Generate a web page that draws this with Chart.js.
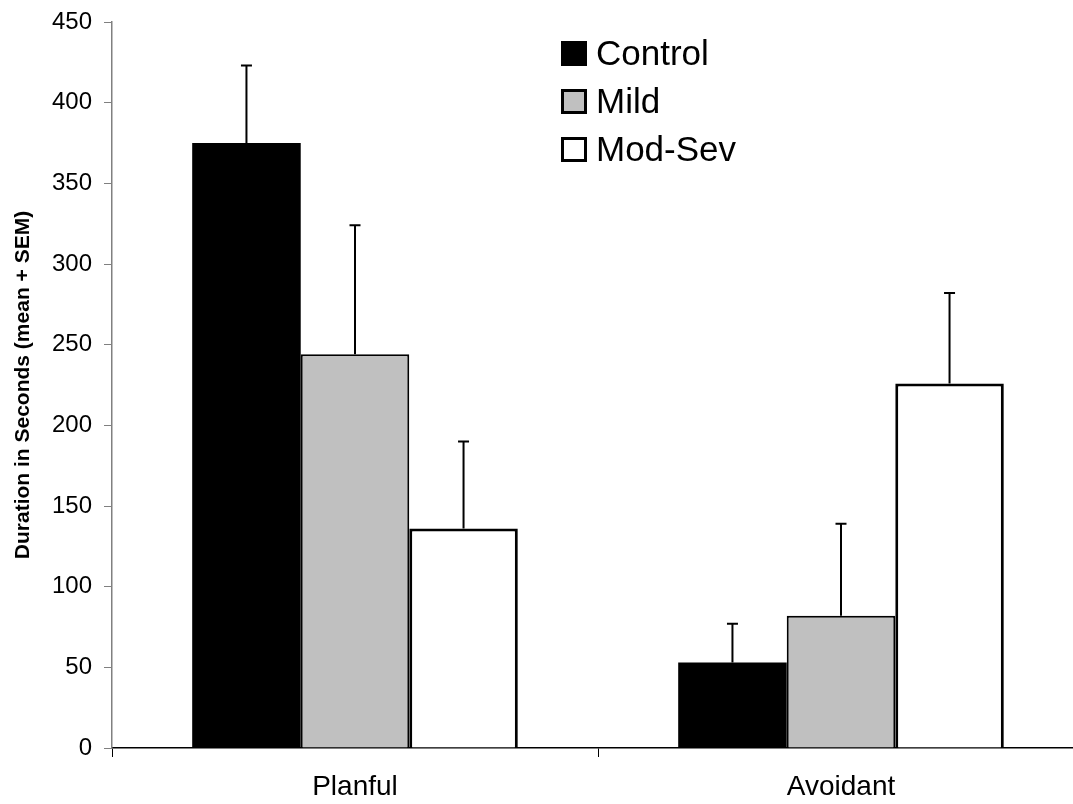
<!DOCTYPE html>
<html>
<head>
<meta charset="utf-8">
<script src="https://cdn.jsdelivr.net/npm/chart.js@4.4.1/dist/chart.umd.min.js"></script>
<style>
  html, body { margin: 0; padding: 0; background: #fff; overflow: hidden; }
  #chart { display: block; }
</style>
</head>
<body>
<canvas id="chart" width="1090" height="804"></canvas>
<script>
const groups = ['Planful', 'Avoidant']
const seriesNames = ['Control', 'Mild', 'Mod-Sev']
const controlMeans = [375, 53]
const controlSem = [48, 24]
const mildMeans = [244, 82]
const mildSem = [80, 57]
const modSevMeans = [136, 226]
const modSevSem = [54, 56]
const yTicks = [0, 50, 100, 150, 200, 250, 300, 350, 400, 450]

const font = "'Liberation Sans', Arial, sans-serif"
const semLists = [controlSem, mildSem, modSevSem]

// error bars (mean + SEM), drawn on top of the bars
const errorBars = {
    id: 'errorBars',
    afterDatasetsDraw(chart) {
        const ctx = chart.ctx
        const y = chart.scales.y
        ctx.save()
        ctx.strokeStyle = '#000'
        ctx.lineWidth = 2
        chart.data.datasets.forEach((ds, i) => {
            const meta = chart.getDatasetMeta(i)
            meta.data.forEach((bar, j) => {
                const top = y.getPixelForValue(ds.data[j] + semLists[i][j])
                ctx.beginPath()
                ctx.moveTo(bar.x, bar.y)
                ctx.lineTo(bar.x, top)
                ctx.moveTo(bar.x - 5.5, top)
                ctx.lineTo(bar.x + 5.5, top)
                ctx.stroke()
            })
        })
        ctx.restore()
    }
}

// legend in the upper middle of the plot
const boxLegend = {
    id: 'boxLegend',
    afterDraw(chart) {
        const ctx = chart.ctx
        ctx.save()
        ctx.font = `35px ${font}`
        ctx.textBaseline = 'middle'
        chart.data.datasets.forEach((ds, i) => {
            const top = 41 + i * 48
            ctx.fillStyle = ds.backgroundColor
            ctx.fillRect(561, top, 26, 25)
            ctx.strokeStyle = '#000'
            ctx.lineWidth = 3
            ctx.strokeRect(562.5, top + 1.5, 23, 22)
            ctx.fillStyle = '#000'
            ctx.fillText(ds.label, 596, top + 14)
        })
        ctx.restore()
    }
}

const ctx = document.getElementById('chart').getContext('2d')
new Chart(ctx, {
    type: 'bar',
    data: {
        labels: groups,
        datasets: [
            { label: seriesNames[0], data: controlMeans, backgroundColor: '#000000', borderColor: '#000', borderWidth: 0 },
            { label: seriesNames[1], data: mildMeans, backgroundColor: '#c0c0c0', borderColor: '#000', borderWidth: 2 },
            { label: seriesNames[2], data: modSevMeans, backgroundColor: '#ffffff', borderColor: '#000', borderWidth: 3 }
        ]
    },
    options: {
        responsive: false,
        animation: false,
        devicePixelRatio: 1,
        categoryPercentage: 0.67,
        barPercentage: 1,
        layout: { padding: { top: 22, right: 6, left: 0, bottom: 0 } },
        plugins: {
            legend: { display: false },
            tooltip: { enabled: false }
        },
        scales: {
            x: {
                grid: { drawOnChartArea: false, drawTicks: true, tickLength: 9, color: '#000', offset: true },
                border: { color: '#000', width: 1.5 },
                ticks: { color: '#000', font: { family: font, size: 28 }, padding: 13 },
                afterFit(scale) { scale.height = 56 }
            },
            y: {
                min: 0,
                max: 450,
                afterBuildTicks(scale) { scale.ticks = yTicks.map(v => ({ value: v })) },
                grid: { drawOnChartArea: false, drawTicks: true, tickLength: 8, color: '#808080' },
                border: { color: '#808080', width: 1.5 },
                ticks: { color: '#000', font: { family: font, size: 24 }, padding: 12 },
                title: {
                    display: true,
                    text: 'Duration in Seconds (mean + SEM)',
                    color: '#000',
                    font: { family: font, size: 21, weight: 'bold' },
                    padding: { top: 11, bottom: 0 }
                },
                afterFit(scale) {
                    scale.width = 112
                    scale.paddingTop = 0
                    scale.paddingBottom = 0
                }
            }
        }
    },
    plugins: [errorBars, boxLegend]
})
</script>
</body>
</html>
